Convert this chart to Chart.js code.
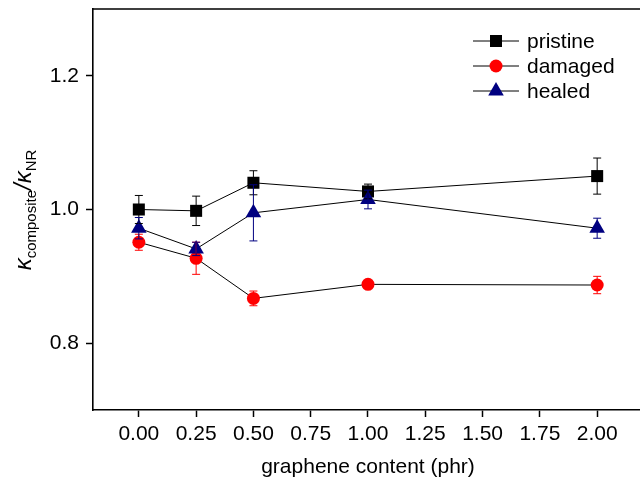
<!DOCTYPE html>
<html>
<head>
  <meta charset="UTF-8">
  <title>kappa composite / kappa NR</title>
  <script src="https://cdn.jsdelivr.net/npm/chart.js"></script>
  <style>
    body { margin: 0; background: #fff; overflow: hidden; }
    #wrap { width: 660px; height: 488px; }
  </style>
</head>
<body>
<div id="wrap"><canvas id="chart" width="660" height="488"></canvas></div>

<script>
// data
const xValues = [0, 0.25, 0.5, 1, 2];
const seriesNames = ['pristine', 'damaged', 'healed'];
const pristine = [1.000, 0.998, 1.040, 1.027, 1.050];
const pristineErr = [0.021, 0.022, 0.018, 0.011, 0.027];
const damaged = [0.951, 0.927, 0.867, 0.888, 0.887];
const damagedErr = [0.012, 0.024, 0.011, 0.005, 0.013];
const healed = [0.972, 0.941, 0.995, 1.015, 0.972];
const healedErr = [0.016, 0.010, 0.042, 0.014, 0.015];
const xTicks = [0, 0.25, 0.5, 0.75, 1, 1.25, 1.5, 1.75, 2];
const yTicks = [0.8, 1.0, 1.2];

const FONT = "'Liberation Sans', Arial, sans-serif";
const styles = [
  { color: '#000000', shape: 'rect', r: 8.5 },
  { color: '#ff0000', shape: 'circle', r: 6.5 },
  { color: '#000080', shape: 'triangle', r: 9 }
];
const values = [pristine, damaged, healed];
const errors = [pristineErr, damagedErr, healedErr];

const datasets = seriesNames.map((name, i) => ({
  label: name,
  data: xValues.map((x, j) => ({ x: x, y: values[i][j] })),
  errs: errors[i],
  borderColor: '#000',
  borderWidth: 1,
  pointStyle: styles[i].shape,
  pointRadius: styles[i].r,
  pointHoverRadius: styles[i].r,
  pointBackgroundColor: styles[i].color,
  pointBorderColor: styles[i].color,
  pointBorderWidth: 0,
  tension: 0,
  order: 2 - i
}));

function drawMarker(ctx, shape, x, y, r, color) {
  ctx.fillStyle = color;
  ctx.beginPath();
  if (shape === 'rect') {
    const s = r * Math.SQRT1_2;
    ctx.rect(x - s, y - s, 2 * s, 2 * s);
  } else if (shape === 'circle') {
    ctx.arc(x, y, r, 0, Math.PI * 2);
  } else {
    const w = r * Math.sin(Math.PI / 3);
    ctx.moveTo(x, y - r);
    ctx.lineTo(x + w, y + r / 2);
    ctx.lineTo(x - w, y + r / 2);
    ctx.closePath();
  }
  ctx.fill();
}

const errorBars = {
  id: 'errorBars',
  afterDatasetsDraw(chart) {
    const ctx = chart.ctx, ys = chart.scales.y;
    ctx.save();
    ctx.lineWidth = 1;
    chart.data.datasets.forEach((ds, i) => {
      const meta = chart.getDatasetMeta(i);
      ctx.strokeStyle = styles[i].color;
      meta.data.forEach((pt, j) => {
        const v = ds.data[j].y, e = ds.errs[j];
        const top = ys.getPixelForValue(v + e), bot = ys.getPixelForValue(v - e);
        ctx.beginPath();
        ctx.moveTo(pt.x, top); ctx.lineTo(pt.x, bot);
        ctx.moveTo(pt.x - 4, top); ctx.lineTo(pt.x + 4, top);
        ctx.moveTo(pt.x - 4, bot); ctx.lineTo(pt.x + 4, bot);
        ctx.stroke();
      });
    });
    ctx.restore();
  }
};

const frameAndLabels = {
  id: 'frameAndLabels',
  afterDraw(chart) {
    const ctx = chart.ctx, a = chart.chartArea;
    ctx.save();
    // frame top / right
    ctx.strokeStyle = '#000';
    ctx.lineWidth = 1.6;
    ctx.beginPath();
    ctx.moveTo(a.left, a.top); ctx.lineTo(a.right, a.top); ctx.lineTo(a.right, a.bottom);
    ctx.stroke();

    // legend: line - marker - line, then name
    seriesNames.forEach((name, i) => {
      const y = 41 + i * 25;
      ctx.strokeStyle = '#000';
      ctx.lineWidth = 1;
      ctx.beginPath();
      ctx.moveTo(473, y); ctx.lineTo(519, y);
      ctx.stroke();
      drawMarker(ctx, styles[i].shape, 496, y, styles[i].r, styles[i].color);
      ctx.fillStyle = '#000';
      ctx.font = '21px ' + FONT;
      ctx.textBaseline = 'middle';
      ctx.textAlign = 'left';
      ctx.fillText(name, 527, y + 1);
    });

    // y title with subscripts
    const parts = [
      { t: '\u03ba', f: 'italic 24px ' + FONT, dy: 0 },
      { t: 'composite', f: '15px ' + FONT, dy: 5 },
      { t: '/', f: 'italic 24px ' + FONT, dy: 0 },
      { t: '\u03ba', f: 'italic 24px ' + FONT, dy: 0 },
      { t: 'NR', f: '15px ' + FONT, dy: 5 }
    ];
    let total = 0;
    parts.forEach(p => { ctx.font = p.f; p.w = ctx.measureText(p.t).width; total += p.w; });
    ctx.translate(31, 210);
    ctx.rotate(-Math.PI / 2);
    ctx.fillStyle = '#000';
    ctx.textBaseline = 'alphabetic';
    ctx.textAlign = 'left';
    let x = -total / 2;
    parts.forEach(p => { ctx.font = p.f; ctx.fillText(p.t, x, p.dy); x += p.w; });
    ctx.restore();
  }
};

new Chart(document.getElementById('chart'), {
  type: 'line',
  data: { datasets: datasets },
  options: {
    responsive: false,
    animation: false,
    layout: { padding: { top: 7, right: 17, bottom: 0, left: 0 } },
    plugins: { legend: { display: false }, tooltip: { enabled: false } },
    scales: {
      x: {
        type: 'linear',
        min: -0.2,
        max: 2.2,
        afterBuildTicks: s => { s.ticks = xTicks.map(v => ({ value: v })); },
        afterFit: s => { s.height = 78; s.paddingLeft = 0; s.paddingRight = 0; },
        ticks: {
          callback: v => v.toFixed(2),
          color: '#000',
          font: { family: FONT, size: 21 },
          padding: 5,
          autoSkip: false,
          maxRotation: 0
        },
        grid: { drawOnChartArea: false, tickLength: 7, tickColor: '#000', tickWidth: 1.5 },
        border: { color: '#000', width: 1.6 },
        title: {
          display: true,
          text: 'graphene content (phr)',
          color: '#000',
          font: { family: FONT, size: 21 },
          padding: { top: 0, bottom: 8 }
        }
      },
      y: {
        min: 0.7,
        max: 1.3,
        afterBuildTicks: s => { s.ticks = yTicks.map(v => ({ value: v })); },
        afterFit: s => { s.width = 93; s.paddingTop = 0; s.paddingBottom = 0; },
        ticks: {
          callback: v => v.toFixed(1),
          color: '#000',
          font: { family: FONT, size: 21 },
          padding: 7
        },
        grid: { drawOnChartArea: false, tickLength: 7, tickColor: '#000', tickWidth: 1.5 },
        border: { color: '#000', width: 1.6 }
      }
    }
  },
  plugins: [errorBars, frameAndLabels]
});
</script>
</body>
</html>
